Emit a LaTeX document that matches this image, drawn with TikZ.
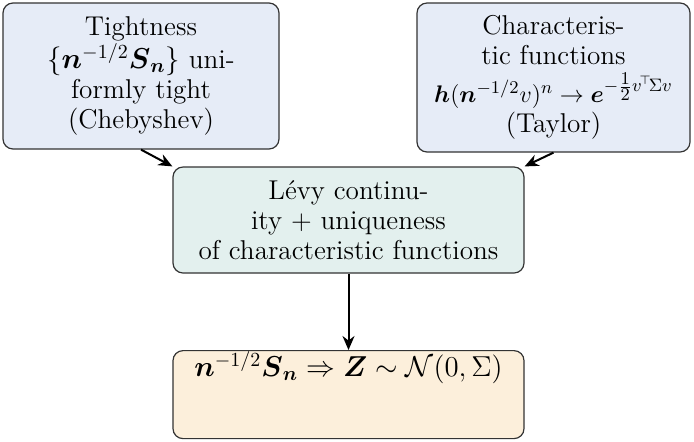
\documentclass[tikz,border=0pt]{standalone}
\usepackage{amsmath}
\usetikzlibrary{arrows.meta}
\definecolor{bluefill}{HTML}{E6ECF7}
\definecolor{tealfill}{HTML}{E3F0EE}
\definecolor{orangefill}{HTML}{FCEFDB}
\definecolor{edgegray}{HTML}{333333}
\newcommand{\bv}[1]{\boldsymbol{#1}}
\tikzset{
  box/.style={draw=edgegray, line width=0.6pt, rounded corners=5pt, align=center,
    inner sep=2pt, font=\fontsize{13.6}{15}\selectfont},
  conn/.style={-{Stealth[length=7pt,width=6pt]}, line width=1pt, black},
}
\begin{document}
\begin{tikzpicture}[x=0.5pt,y=-0.5pt]
\useasboundingbox (0,0) rectangle (694,441);
\node[box, fill=bluefill, minimum width=138pt, minimum height=73pt] (tight) at (141,76)
  {Tightness\\ $\{\bv{n}^{-1/2}\bv{S}_{\bv{n}}\}$ uni-\\ formly tight\\ (Chebyshev)};
\node[box, fill=bluefill, minimum width=136.5pt, minimum height=74.5pt] (char) at (553.5,77.5)
  {Characteris-\\ tic functions\\[3pt] {\fontsize{12.6}{15.5}\selectfont$\bv{h}(\bv{n}^{-1/2}v)^n \to \bv{e}^{-\frac{\scriptstyle 1}{\scriptstyle 2}v^{\!\top}\!\Sigma v}$}\\ (Taylor)};
\node[box, fill=tealfill, minimum width=175.5pt, minimum height=53pt] (levy) at (348.5,220)
  {L\'evy continu-\\ ity + uniqueness\\ of characteristic functions};
\node[box, fill=orangefill, minimum width=175.5pt, anchor=north, inner ysep=3pt,
  text height=10pt, text depth=28pt] (res) at (348.5,350)
  {$\bv{n}^{-1/2}\bv{S}_{\bv{n}} \Rightarrow \bv{Z} \sim \mathcal{N}(0,\Sigma)$};
\draw[conn] (tight.south) -- (levy.north west);
\draw[conn] (char.south) -- (levy.north east);
\draw[conn] (levy.south) -- (res.north);
\end{tikzpicture}
\end{document}
